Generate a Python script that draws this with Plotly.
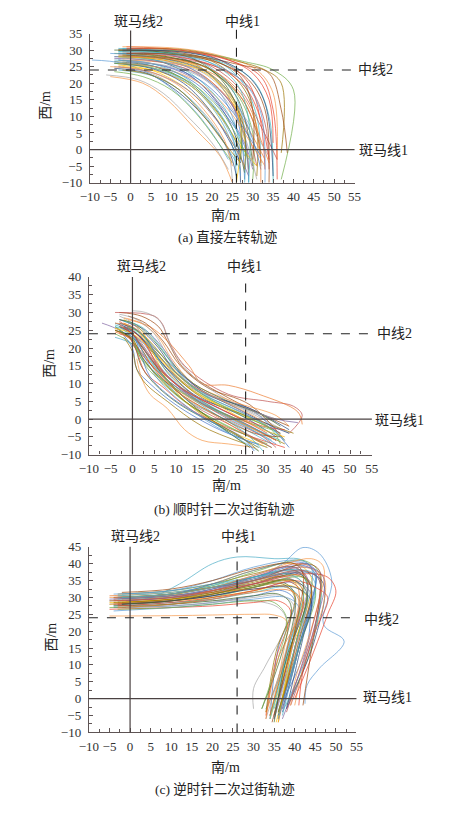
import plotly.graph_objects as go

W, H = 452, 814
FONT = "'Liberation Serif', 'Times New Roman', 'Noto Sans CJK SC', serif"

# ---------------- data: trajectories, each a list of (南/m, 西/m) points ----------------
A_TRAJ = [
    [(-3, 30), (8, 29), (17, 25), (24, 16), (27, 5), (28, -9)],
    [(-2, 29), (9, 28), (18, 24), (25, 14), (28, 3), (29, -7)],
    [(-4, 28), (6, 27), (15, 22), (22, 13), (26, 3), (27, -10)],
    [(-3, 27), (6, 25), (14, 20), (21, 11), (25, 1), (26, -9)],
    [(-2, 26), (7, 24), (15, 19), (22, 10), (26, 0), (27, -8)],
    [(-4, 25), (5, 23), (13, 17), (20, 8), (24, -1), (25, -10)],
    [(-5, 22), (3, 20), (9, 15), (16, 6), (22, -2), (25, -10)],
    [(-1, 31), (12, 30), (22, 27), (29, 20), (32, 8), (33, -6)],
    [(-2, 30.5), (10, 30), (20, 27.5), (27, 21), (31, 10), (32, -5)],
    [(-3, 30), (11, 29), (21, 26), (28, 18), (31, 6), (31, -8)],
    [(-4, 29), (8, 28), (18, 25), (26, 17), (30, 5), (30, -9)],
    [(-3, 28.5), (10, 27.5), (20, 24), (27, 16), (31, 5), (32, -4)],
    [(-2, 28), (8, 27), (17, 23), (24, 15), (29, 4), (31, -5)],
    [(-1, 27.5), (9, 26), (18, 22), (25, 14), (30, 4), (33, -3)],
    [(-3, 27), (7, 25.5), (16, 21), (23, 12), (28, 2), (30, -6)],
    [(-4, 26.5), (6, 25), (14, 20.5), (21, 12), (26, 2), (28, -7)],
    [(-2, 26), (8, 24.5), (16, 20), (23, 11), (28, 1), (29, -10)],
    [(-3, 25.5), (5, 24), (13, 19), (20, 11), (25, 2), (28, -5)],
    [(-4, 24.5), (4, 23), (11, 18), (18, 10), (24, 0), (26, -8)],
    [(-3, 24), (6, 22), (13, 17), (19, 9), (24, 0), (27, -6)],
    [(-9.5, 27), (-2, 26), (6, 22), (14, 14), (20, 5), (24, -3)],
    [(-6, 22.5), (2, 21), (8, 17), (14, 10), (20, 2), (24, -6)],
    [(-2, 31), (12, 30.5), (23, 28), (31, 24), (35, 17), (36, -3)],
    [(-1, 30), (13, 29.5), (24, 27), (32, 22), (35, 12), (36, -9)],
    [(-3, 29.5), (12, 29), (22, 26.5), (30, 21), (34, 10), (35, -10)],
    [(0, 30.5), (14, 30), (25, 27), (33, 24), (37, 20), (37, -1)],
    [(-1, 30), (15, 29.5), (28, 26.5), (35, 24), (40, 18), (37, -9)],
    [(-2, 29), (14, 28.5), (27, 25.5), (34, 23), (37, 12), (38.5, -1)],
    [(-3, 28), (10, 27.5), (21, 25), (29, 19), (33, 8), (34, -6)],
    [(-2, 27), (10, 26), (20, 23), (27, 16), (31, 6), (34, -4)],
    [(-4, 27.5), (7, 26.5), (16, 23), (24, 15), (28, 4), (29, -6)],
    [(-3, 29), (9, 28), (19, 24.5), (26, 16), (29, 4), (30, -5)],
    [(-1, 28.5), (10, 27), (19, 23), (26, 14), (30, 3), (32, -6)],
    [(-2, 25), (7, 23.5), (15, 19), (22, 10), (27, 1), (31, -5)],
    [(-4, 26), (5, 24.5), (13, 20), (20, 11), (25, 1), (27, -4)],
    [(-3, 30.5), (9, 29.5), (18, 26), (25, 18), (28, 6), (28, -10)],
    [(-5, 29), (5, 28), (14, 25), (22, 17), (26, 6), (27, -4)],
    [(-2, 27.5), (9, 26.5), (18, 23), (25, 15), (30, 6), (34, -2)],
    [(-3, 26), (8, 24.5), (17, 20), (24, 12), (29, 3), (33, -5)],
    [(-1, 29), (11, 28), (21, 25), (28, 19), (32, 9), (34, -3)],
    [(-3, 28), (6, 27), (14, 23.5), (21, 16), (26, 6), (28, -2)],
    [(-2, 24), (5, 22.5), (12, 18), (18, 10), (23, 2), (27, -4)],
    [(-4, 23.5), (3, 22), (10, 18), (16, 11), (21, 3), (25, -4)],
    [(-3, 30), (10, 29.5), (20, 27), (27, 22), (30, 12), (30, -3)],
    [(-2, 29.5), (10, 28.5), (20, 25), (27, 18), (32, 7), (36, -3)],
    [(0, 28), (11, 27), (20, 24), (27, 17), (31, 7), (32, -10)],
    [(-3, 25), (6, 23), (14, 18), (21, 9), (26, 0), (29, -8)],
    [(-4, 30), (7, 29.5), (16, 27), (23, 20), (27, 9), (27, -3)],
    [(-1, 26.5), (9, 25), (17, 21), (24, 13), (29, 4), (32, -2)],
    [(-3, 28), (8, 27), (17, 24), (24, 17), (27, 7), (26, -10)],
    [(-2, 30), (12, 29.5), (22, 27), (29, 22), (33, 14), (35, -8)],
    [(-4, 27), (5, 26), (13, 22), (20, 14), (25, 4), (26, -5)],
    [(-3, 29), (10, 28.5), (20, 26), (28, 20), (32, 11), (33, -10)],
    [(-2, 26.5), (8, 25.5), (17, 22), (24, 14), (28, 4), (31, -9)],
    [(-5, 25), (3, 24), (11, 20), (18, 12), (23, 3), (25, -5)],
    [(-1, 30.5), (12, 30), (23, 27.5), (30, 23), (34, 15), (35, 2)],
    [(-3, 29.5), (9, 29), (19, 26.5), (26, 20), (29, 9), (29, -10)],
    [(-2, 28.5), (8, 27.5), (18, 24), (25, 16), (28, 5), (28, -6)],
    [(-4, 26), (6, 24.5), (15, 20), (22, 12), (27, 2), (29, -3)],
    [(-1, 29), (12, 28.5), (22, 26), (29, 21), (33, 12), (34, -10)],
]

B_TRAJ = [
    [(-4, 25), (-1, 23), (3, 17), (8, 11), (15, 5), (24, 0), (33, -6)],
    [(-3, 27), (0, 25.5), (4, 20), (8, 14), (14, 8), (24, 2), (34, -4)],
    [(-2, 26), (1, 24), (5, 18), (9, 12), (16, 5), (25, -1), (35, -7)],
    [(-4, 24), (0, 21), (3, 15), (7, 10), (13, 4), (22, -2), (32, -8)],
    [(-3, 30), (2, 29), (6, 26), (8, 22), (12, 14), (22, 6), (36, -2)],
    [(-4, 30), (5, 29), (7, 26.5), (8, 23), (12, 15), (22, 7), (31, 5), (37, 3.6), (39, 1), (36, -4)],
    [(-1, 28), (4, 26), (8, 22), (13, 15), (16, 10), (22, 9.5), (29, 7), (38, 2), (39, -1.5)],
    [(-7, 27), (-3, 25), (0, 22), (3, 17), (8, 11), (17, 4), (27, -2), (33, -6)],
    [(-4, 26), (0, 22), (2, 15), (5, 10), (11, 4), (20, -2), (29, -8)],
    [(-3, 25), (0, 20), (1, 14), (4, 10), (10, 4), (20, -3), (31, -8)],
    [(-2, 27), (1, 25), (5, 19), (9, 13), (15, 7), (24, 2), (34, -4)],
    [(-3, 28), (1, 26), (6, 20), (10, 13), (17, 7), (27, 3), (36, -3)],
    [(-4, 23), (0, 21), (3, 16), (7, 11), (13, 4), (21, -3), (29, -9)],
    [(-2, 25), (2, 22), (5, 17), (9, 11), (15, 5), (23, 0), (33, -7)],
    [(-3, 29), (0, 27), (4, 21), (9, 14), (15, 8), (25, 3), (36, -4)],
    [(1, 17), (2, 12), (4, 7), (8, 3), (12, -3), (16, -6), (22, -7), (28, -8)],
    [(-1, 24), (1, 19), (3, 13), (7, 9), (13, 3), (23, -3), (35, -8)],
    [(-4, 26), (0, 24), (3, 19), (7, 13), (12, 8), (22, 1), (34, -6)],
    [(-2, 26), (2, 23), (6, 18), (10, 12), (16, 6), (26, 1), (37, -4)],
    [(-3, 25), (0, 22), (2, 17), (6, 12), (11, 6), (20, -1), (31, -7)],
    [(-1, 29), (3, 27), (7, 22), (11, 15), (17, 9), (27, 4), (35, -6)],
    [(-3, 24), (1, 22), (4, 17), (8, 11), (14, 4), (23, -2), (32, -8)],
    [(-2, 27), (1, 25), (4, 19), (7, 12), (13, 6), (23, 0), (33, -6)],
    [(0, 26), (3, 23), (6, 17), (10, 12), (16, 7), (25, 2), (34, -4)],
    [(-4, 25), (0, 23), (3, 19), (6, 14), (11, 7), (19, -1), (27, -8)],
    [(-3, 26), (1, 24), (5, 19), (10, 13), (17, 7), (28, 2), (36, -8)],
    [(-2, 28), (2, 25), (5, 18), (8, 11), (13, 4), (22, -3), (31, -8)],
    [(-4, 27), (0, 25), (4, 20), (8, 14), (14, 7), (25, 1), (33, -5)],
    [(-3, 26), (0, 23), (3, 18), (7, 12), (13, 5), (23, -1), (32, -7)],
    [(-1, 25), (2, 21), (5, 16), (9, 11), (15, 6), (25, 0), (34, -5)],
    [(0, 30.5), (3, 30), (6, 28), (7.5, 25), (9, 20), (14, 12), (24, 4), (33, -1)],
    [(-2, 28.5), (2, 27), (6, 23), (9, 17), (14, 10), (23, 5), (33, 1), (36, -2)],
    [(-3, 27.5), (0, 25), (3, 21), (6, 15), (11, 9), (20, 3), (30, -2), (35, -3)],
    [(-4, 26.5), (-1, 25), (2, 21), (5, 15), (9, 10), (17, 3), (26, -4), (30, -9)],
    [(-2, 23), (0, 19), (1, 14), (3, 10), (8, 5), (16, -2), (26, -7)],
    [(0, 24), (1, 20), (3, 16), (6, 12), (12, 7), (22, 1), (32, -3)],
    [(-3, 26), (0, 24), (2, 20), (5, 14), (10, 8), (18, 2), (28, -4), (34, -5)],
    [(-2, 25.5), (1, 23), (4, 18), (8, 12), (14, 6), (22, 0), (30, -5), (33, -8)],
    [(-4, 24.5), (-1, 23), (2, 19), (6, 13), (11, 7), (19, 1), (27, -5), (30, -7)],
    [(-1, 27), (3, 25), (7, 20), (11, 13), (16, 8), (24, 4), (33, 0), (38, -1)],
    [(-3, 28), (1, 26.5), (5, 22), (9, 16), (14, 10), (22, 5), (30, 1), (34, -2)],
    [(-2, 26), (0, 24), (2, 18), (4, 12), (9, 6), (17, 0), (25, -5), (28, -9)],
    [(-4, 25.5), (0, 24), (4, 20), (8, 15), (13, 9), (21, 3), (30, -3), (35, -5)],
    [(-3, 27), (1, 25), (5, 20), (10, 14), (16, 8), (24, 3), (32, -2), (36, -4)],
    [(-1, 26.5), (2, 24), (5, 19), (8, 13), (13, 7), (21, 1), (29, -4), (32, -6)],
    [(-2, 24.5), (1, 22), (3, 17), (6, 11), (11, 5), (19, -2), (26, -6), (29, -7)],
    [(-3, 29.5), (1, 28), (5, 24), (8, 18), (12, 11), (19, 6), (28, 2), (33, 0)],
    [(-4, 27), (0, 26), (4, 22), (8, 16), (13, 10), (21, 5), (29, 0), (32, -3)],
    [(-3, 26.5), (0, 24), (3, 19), (7, 13), (12, 8), (20, 3), (28, -2), (31, -4)],
    [(-2, 27.5), (2, 26), (6, 21), (10, 14), (15, 8), (23, 3), (31, -2), (35, -6)],
    [(-4, 25), (0, 22.5), (2, 18), (5, 13), (10, 7), (18, 0), (26, -6), (29, -9)],
    [(-1, 26), (2, 24), (6, 19), (10, 13), (16, 7), (25, 1), (32, -3), (34, -7)],
]

C_TRAJ = [
    [(-5, 28), (10, 29), (20, 30.5), (30, 33), (39, 35.5), (42, 32), (39, 15), (35, -5)],
    [(-3, 30), (10, 31), (20, 33), (30, 36), (40, 38), (43, 34), (40, 15), (36, -4)],
    [(-4, 27), (10, 27.5), (20, 28.5), (30, 30.5), (37, 32), (40, 29), (36, 15), (34, -6)],
    [(-2, 29), (10, 30.5), (20, 34), (30, 38), (40, 40), (44, 36), (40, 15), (35.5, -7)],
    [(-5, 29), (10, 30), (20, 32), (30, 35), (41, 37), (44, 33), (41, 15), (37, -3)],
    [(-3, 29), (5, 30), (12, 34), (20, 40), (26, 42), (35, 41.5), (42, 41), (45, 36), (41, 15), (36, -4)],
    [(-4, 28), (10, 29.5), (20, 32), (30, 35), (37, 40), (42, 44.8), (46, 43), (49, 35), (47, 22),
     (52, 17), (46, 9), (43, 4), (42.5, -1.5)],
    [(-2, 28), (10, 28.5), (20, 29), (30, 29), (36, 27), (38, 23), (33, 10), (30, 3), (30, -3)],
    [(-5, 24.5), (10, 24.6), (20, 24.8), (30, 25), (35, 24.8), (38, 23), (37, 12), (34, -5)],
    [(-5, 26.5), (10, 27), (20, 27.5), (30, 28.5), (36, 29), (39, 26), (35.5, 12), (33, -5)],
    [(-4, 27.5), (10, 28.5), (20, 29.5), (30, 31.5), (38, 33), (41, 30), (39, 15), (33, -3)],
    [(-3, 31), (10, 32), (20, 34), (30, 37), (40, 39), (43, 35), (40, 15), (36, -6)],
    [(-2, 30), (10, 31), (20, 33.5), (30, 37.5), (42, 41), (46, 37), (44, 15), (38, -2)],
    [(-4, 29.5), (10, 30.5), (20, 32), (30, 34), (38, 35), (42, 31), (39, 15), (34.5, -7)],
    [(-3, 28.5), (10, 29.5), (20, 32), (30, 36), (42, 40), (46, 36), (44, 17), (39, -2)],
    [(-5, 30.5), (10, 31.5), (20, 33), (30, 35), (38, 36), (41, 32), (38, 14), (33, -4)],
    [(-2, 27), (10, 28), (20, 29.5), (30, 32), (40, 34.5), (44, 31), (41, 15), (37, -4)],
    [(-3, 28), (10, 29), (20, 30.5), (30, 33), (37, 34.5), (40, 31), (38, 14), (34, -5)],
    [(-4, 30), (10, 31), (20, 33), (30, 36), (42, 39.5), (45, 37), (44, 28), (43, 16), (37, -1)],
    [(-5, 28), (10, 29), (20, 30), (30, 32), (39, 33.5), (43, 30), (39, 14), (34, -6)],
    [(-3, 29), (10, 30), (20, 31.5), (30, 34), (43, 37.5), (47, 34), (45, 18), (38, -3)],
    [(-2, 31), (10, 32), (20, 34), (30, 36), (42, 38), (45, 34), (41, 15), (37, -5)],
    [(-4, 26), (10, 27), (20, 28), (30, 29.5), (38, 30), (41, 27), (38, 13), (35, -6)],
    [(-3, 29), (10, 30), (20, 31.5), (30, 34), (40, 36), (43, 32), (40, 15), (35, -6)],
    [(-5, 29), (10, 30), (20, 32), (30, 35), (42, 39), (47, 36), (47, 28), (43, 14), (40, -2)],
    [(-4, 28), (10, 29), (20, 31), (30, 34), (42, 37), (48, 36), (50, 32), (48, 25), (44, 12), (40, 0)],
    [(-3, 30.5), (10, 31.5), (20, 33.5), (30, 36), (40, 38), (43, 34), (40, 15), (35, -3)],
    [(-2, 28.5), (10, 29.5), (20, 31), (30, 33), (37, 34), (40, 30), (35.5, 14), (33, -4)],
    [(-5, 27), (10, 28), (20, 30), (30, 33), (42, 36), (45, 32), (41, 15), (36, -5)],
    [(-4, 30), (10, 31), (20, 33), (30, 35), (43, 40), (46, 38), (46, 30), (44, 14), (42, -2)],
    [(-3, 28), (10, 29), (20, 31), (30, 34), (41, 37.5), (44, 33), (40, 14), (36, -7)],
    [(-2, 29.5), (10, 30.5), (20, 31.5), (30, 32.5), (38, 33), (41, 29), (38, 14), (34, -5)],
    [(-1, 29), (10, 30), (20, 32.5), (30, 36.5), (39, 39), (43, 36), (40, 18), (35, -6)],
    [(-4, 27.5), (10, 28), (20, 29), (30, 30.5), (36, 31), (39, 28), (37, 14), (32, -3)],
    [(-3, 30), (10, 31), (20, 34), (30, 38), (41, 40.5), (45, 38), (42, 20), (36, -5)],
    [(-5, 28.5), (10, 29.5), (20, 31), (30, 33.5), (39, 35), (42, 32), (40, 20), (36, -7)],
    [(-2, 28), (10, 29), (20, 30.5), (30, 32.5), (40, 33), (44, 29), (42, 18), (38, -3)],
    [(-3, 29.5), (10, 30.5), (20, 32.5), (30, 35), (43, 38), (46, 35), (45, 20), (37, -4)],
    [(-4, 31), (10, 32), (20, 35), (30, 39), (41, 41), (44, 39), (42, 22), (36, -6)],
    [(-1, 27), (10, 27.5), (20, 28.5), (30, 30), (37, 30.5), (40, 27), (38, 15), (33, -6)],
    [(-5, 30), (10, 31), (20, 33), (30, 36.5), (44, 41.5), (47, 39), (45, 25), (40, 5), (39, -2)],
    [(-3, 27.5), (10, 28.5), (20, 30), (30, 32), (40, 35), (45, 33), (48, 30), (45, 20), (42, 8), (41, -2)],
    [(-2, 30), (10, 31), (20, 33), (30, 35.5), (38, 37), (42, 34), (39, 17), (34, -6)],
    [(-4, 28.5), (10, 29.5), (20, 31.5), (30, 34.5), (41, 36.5), (44, 33), (41, 17), (36, -4)],
    [(-3, 26.5), (10, 27), (20, 28), (30, 29), (35, 28.5), (38, 24), (36, 12), (32, -3)],
    [(-2, 31.5), (10, 32.5), (20, 35), (30, 38.5), (40, 40), (42, 37), (40, 20), (35, -5)],
    [(-4, 29), (10, 30), (20, 32), (30, 35), (42, 38), (46, 35), (44, 20), (38, -4)],
    [(-3, 27), (10, 28), (20, 29.5), (30, 31.5), (39, 32), (42, 28), (36, 12), (33, -6)],
    [(-5, 29.5), (10, 30.5), (20, 32.5), (30, 35.5), (43, 39), (47, 36), (45, 22), (37, -6)],
    [(-2, 28), (10, 29), (20, 31), (30, 33.5), (40, 35), (43, 31), (38, 12), (35, -7)],
]

X_TICKS = [-10, -5, 0, 5, 10, 15, 20, 25, 30, 35, 40, 45, 50, 55]
Y_RANGES = [[-10, 35], [-10, 40], [-10, 45]]
CAPTIONS = ["(a) 直接左转轨迹", "(b) 顺时针二次过街轨迹", "(c) 逆时针二次过街轨迹"]
ZEBRA2_X, MID1_X, MID2_Y, ZEBRA1_Y = 0, 26, 24, 0

COLORS = ['#4472c4', '#ed7d31', '#70ad47', '#e8412b', '#5b9bd5', '#ffc000',
          '#8064a2', '#9e480e', '#3fb8c0', '#a5a5a5', '#264478', '#43682b',
          '#c0504d', '#997300', '#f79646', '#4bacc6']

# ---------------- layout (pixel boxes of the three plot areas) ----------------
BOXES = [(83, 358, 27, 179), (82, 376, 275, 456), (82, 360, 550, 739)]


def px(x):
    return x / W


def py(y):
    return 1 - y / H


fig = go.Figure()
datasets = [A_TRAJ, B_TRAJ, C_TRAJ]
AXC = '#5e5454'
layout = {}
annotations = []
shapes = []

TOPLAB_Y = [15, 264, 539]
ZEB2_LAB_X = [134, 137, 130]
MID1_LAB_X = [242, 244, 237]
MID2_LAB = [(380, 64), (400, 333), (386, 624)]
ZEB1_LAB = [(388, 146), (405, 421), (392, 703)]
YT = [(37, 100), (41, 363), (43, 642)]
XT = [(224, 212), (225, 487), (224, 775)]
CAP = [(227, 234), (223, 512), (223, 797)]
TOP_EXT = [(1.02, 1.05), (1.0, 1.0), (1.0, 1.0)]


def ann(text, x, y, size=14, angle=0):
    annotations.append(dict(text=text, x=px(x), y=py(y), xref='paper', yref='paper',
                            showarrow=False, xanchor='center', yanchor='middle', textangle=angle,
                            font=dict(family=FONT, size=size, color='#222')))


for i, trajs in enumerate(datasets):
    n = i + 1
    xa = 'x' if n == 1 else f'x{n}'
    ya = 'y' if n == 1 else f'y{n}'
    for k, tr in enumerate(trajs):
        fig.add_trace(go.Scatter(x=[p[0] for p in tr], y=[p[1] for p in tr], mode='lines',
                                 xaxis=xa, yaxis=ya,
                                 line=dict(color=COLORS[(k * 5 + i * 3) % len(COLORS)], width=0.7,
                                           shape='spline', smoothing=1.0),
                                 showlegend=False, hoverinfo='skip'))
    x0, x1, y0, y1 = BOXES[i]
    axname_x = 'xaxis' if n == 1 else f'xaxis{n}'
    axname_y = 'yaxis' if n == 1 else f'yaxis{n}'
    layout[axname_x] = dict(domain=[px(x0), px(x1)], range=[-10, 55], anchor=ya,
                            tickvals=X_TICKS, ticktext=[str(v).replace('-', '−') for v in X_TICKS],
                            ticks='inside', ticklen=4, tickcolor=AXC, tickwidth=1,
                            minor=dict(ticks='inside', ticklen=3, dtick=2.5, tickcolor=AXC, showgrid=False),
                            showline=True, linecolor=AXC, linewidth=1.2, showgrid=False, zeroline=False,
                            tickfont=dict(family=FONT, size=13, color='#333'), ticklabelstandoff=2)
    yr = Y_RANGES[i]
    yt = list(range(yr[0], yr[1] + 1, 5))
    layout[axname_y] = dict(domain=[py(y1), py(y0)], range=yr, anchor=xa,
                            tickvals=yt, ticktext=[str(v).replace('-', '−') for v in yt],
                            ticks='inside', ticklen=4, tickcolor=AXC, tickwidth=1,
                            minor=dict(ticks='inside', ticklen=3, dtick=2.5, tickcolor=AXC, showgrid=False),
                            showline=True, linecolor=AXC, linewidth=1.2, showgrid=False, zeroline=False,
                            tickfont=dict(family=FONT, size=13, color='#333'), ticklabelstandoff=4)
    te = TOP_EXT[i]
    shapes.append(dict(type='line', xref=xa, yref=f'{ya} domain', x0=ZEBRA2_X, x1=ZEBRA2_X, y0=0, y1=te[0],
                       line=dict(color='#4a4242', width=1.2), layer='above'))
    shapes.append(dict(type='line', xref=xa, yref=f'{ya} domain', x0=MID1_X, x1=MID1_X, y0=0, y1=te[1],
                       line=dict(color='#222', width=1.1, dash='dash'), layer='above'))
    shapes.append(dict(type='line', xref=f'{xa} domain', yref=ya, x0=0, x1=1, y0=MID2_Y, y1=MID2_Y,
                       line=dict(color='#222', width=1.1, dash='dash'), layer='above'))
    shapes.append(dict(type='line', xref=f'{xa} domain', yref=ya, x0=0, x1=1, y0=ZEBRA1_Y, y1=ZEBRA1_Y,
                       line=dict(color='#4a4242', width=1.2), layer='above'))

    ann('斑马线2', ZEB2_LAB_X[i], TOPLAB_Y[i])
    ann('中线1', MID1_LAB_X[i], TOPLAB_Y[i])
    ann('中线2', *MID2_LAB[i])
    ann('斑马线1', *ZEB1_LAB[i])
    ann('西/m', *YT[i], angle=-90)
    ann('南/m', *XT[i])
    ann(CAPTIONS[i], *CAP[i], size=13.5)

fig.update_layout(width=W, height=H, margin=dict(l=0, r=0, t=0, b=0),
                  paper_bgcolor='white', plot_bgcolor='white',
                  annotations=annotations, shapes=shapes, **layout)
fig.write_html("out.html", config={'displayModeBar': False},
               post_script="document.body.style.margin='0px';document.body.style.overflow='hidden';")
